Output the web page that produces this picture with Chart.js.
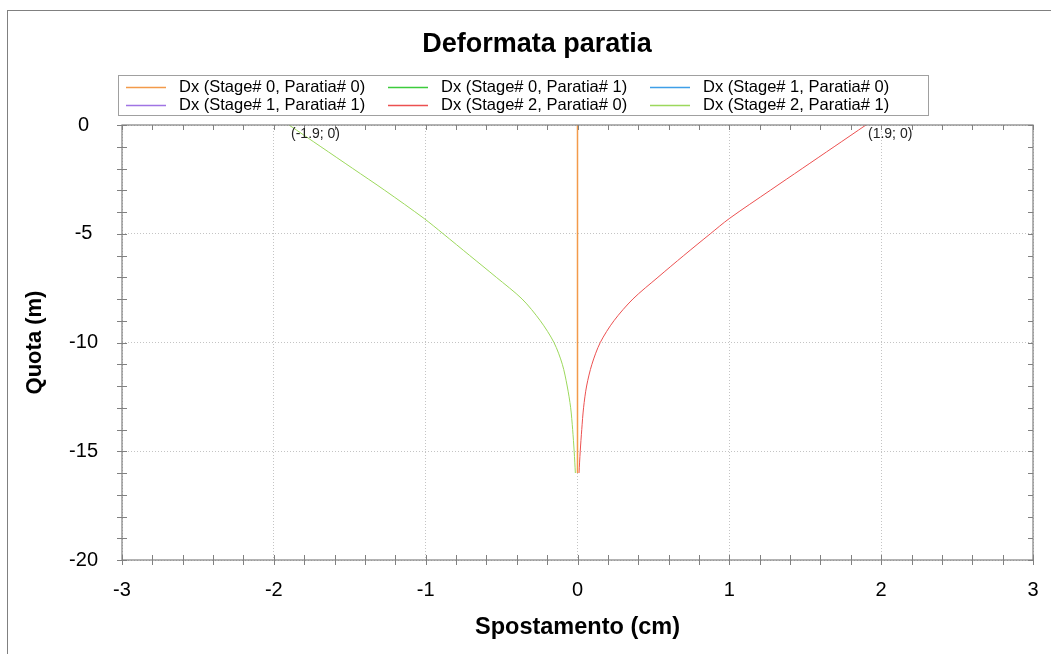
<!DOCTYPE html>
<html>
<head>
<meta charset="utf-8">
<script src="https://cdn.jsdelivr.net/npm/chart.js@4.4.1/dist/chart.umd.min.js"></script>
<style>
  html, body { margin: 0; padding: 0; background: #fff; overflow: hidden; }
  #wrap { position: absolute; left: 7px; top: 10px; border-left: 1px solid #808080; border-top: 1px solid #808080; }
  canvas { display: block; }
</style>
</head>
<body>
<div id="wrap"><canvas id="deformata" width="1058" height="643"></canvas></div>
<script>
// quote (m) dei punti
const quote = [0, -1, -2, -3, -4.3, -5, -6, -7, -8, -9, -10, -11, -12, -13, -14, -15, -16];

// spostamenti (cm) per ogni serie
const dxS0P0 = [0, 0, 0, 0, 0, 0, 0, 0, 0, 0, 0, 0, 0, 0, 0, 0, 0];
const dxS0P1 = [0, 0, 0, 0, 0, 0, 0, 0, 0, 0, 0, 0, 0, 0, 0, 0, 0];
const dxS1P0 = [0, 0, 0, 0, 0, 0, 0, 0, 0, 0, 0, 0, 0, 0, 0, 0, 0];
const dxS1P1 = [0, 0, 0, 0, 0, 0, 0, 0, 0, 0, 0, 0, 0, 0, 0, 0, 0];
const dxS2P0 = [1.9, 1.69, 1.48, 1.27, 1.0, 0.875, 0.7, 0.53, 0.365, 0.24, 0.15, 0.095, 0.06, 0.04, 0.028, 0.018, 0.01];
const dxS2P1 = [-1.9, -1.69, -1.48, -1.27, -1.01, -0.885, -0.71, -0.535, -0.365, -0.245, -0.155, -0.1, -0.068, -0.045, -0.032, -0.022, -0.014];

const nomiSerie = [
    "Dx (Stage# 0, Paratia# 0)", "Dx (Stage# 0, Paratia# 1)", "Dx (Stage# 1, Paratia# 0)",
    "Dx (Stage# 1, Paratia# 1)", "Dx (Stage# 2, Paratia# 0)", "Dx (Stage# 2, Paratia# 1)"
];
const coloriSerie = ["#f39a4a", "#3ccc3c", "#3f9fe8", "#a074e4", "#ec5050", "#9cd85c"];
const serie = [dxS0P0, dxS0P1, dxS1P0, dxS1P1, dxS2P0, dxS2P1];

// etichette dei punti di testa
const etichette = [
    { x: -1.9, y: 0, testo: "(-1.9; 0)" },
    { x: 1.9, y: 0, testo: "(1.9; 0)" }
];

const FONT = "'Liberation Sans', Arial, sans-serif";
const AXIS = "#808080";

function punti(xs) {
    return xs.map(function (v, i) { return { x: v, y: quote[i] }; });
}

// titolo, legenda a 3 colonne, tacche e cornice
const decorazioni = {
    id: "decorazioni",
    afterDatasetsDraw: function (chart) {
        const ctx = chart.ctx;
        const a = chart.chartArea;
        const sx = chart.scales.x, sy = chart.scales.y;
        ctx.save();

        // cornice
        ctx.strokeStyle = AXIS;
        ctx.lineWidth = 1.2;
        ctx.strokeRect(a.left, a.top, a.right - a.left, a.bottom - a.top);

        // tacche asse x ogni 0.2
        ctx.beginPath();
        for (let i = -15; i <= 15; i++) {
            const px = Math.round(sx.getPixelForValue(i / 5)) + 0.5;
            ctx.moveTo(px, a.bottom - 5); ctx.lineTo(px, a.bottom + 5);
            ctx.moveTo(px, a.top); ctx.lineTo(px, a.top + 5);
        }
        // tacche asse y ogni 1
        for (let j = -20; j <= 0; j++) {
            const py = Math.round(sy.getPixelForValue(j)) + 0.5;
            ctx.moveTo(a.left - 5, py); ctx.lineTo(a.left + 5, py);
            ctx.moveTo(a.right, py); ctx.lineTo(a.right - 5, py);
        }
        ctx.lineWidth = 1;
        ctx.stroke();

        // titolo
        ctx.fillStyle = "#000";
        ctx.font = "bold 27px " + FONT;
        ctx.textAlign = "center";
        ctx.textBaseline = "middle";
        ctx.fillText("Deformata paratia", 529, 34);

        // etichette punti
        ctx.fillStyle = "#222";
        ctx.font = "14px " + FONT;
        ctx.textBaseline = "top";
        ctx.textAlign = "left";
        etichette.forEach(function (e) {
            ctx.fillText(e.testo, sx.getPixelForValue(e.x) + 2, sy.getPixelForValue(e.y) + 2);
        });

        // legenda
        ctx.fillStyle = "#fff";
        ctx.fillRect(110, 64, 810, 40);
        ctx.strokeStyle = "#a0a0a0";
        ctx.lineWidth = 1;
        ctx.strokeRect(110.5, 64.5, 810, 40);
        ctx.font = "16.5px " + FONT;
        ctx.textBaseline = "middle";
        nomiSerie.forEach(function (nome, k) {
            const col = k % 3, row = Math.floor(k / 3);
            const x0 = 118 + col * 262, y0 = 76 + row * 18;
            ctx.strokeStyle = coloriSerie[k];
            ctx.lineWidth = 1.5;
            ctx.beginPath();
            ctx.moveTo(x0, y0 + 0.5); ctx.lineTo(x0 + 40, y0 + 0.5);
            ctx.stroke();
            ctx.fillStyle = "#000";
            ctx.fillText(nome, x0 + 53, y0);
        });
        ctx.restore();
    }
};

new Chart(document.getElementById("deformata"), {
    type: "scatter",
    data: {
        datasets: serie.map(function (xs, k) {
            return {
                label: nomiSerie[k],
                data: punti(xs),
                showLine: true,
                order: k,
                borderColor: coloriSerie[k],
                backgroundColor: coloriSerie[k],
                borderWidth: k === 0 ? 1.5 : 1,
                pointRadius: 0,
                tension: 0.3
            };
        })
    },
    options: {
        responsive: false,
        animation: false,
        layout: { padding: { left: 0, right: 33, top: 114, bottom: 0 } },
        plugins: {
            legend: { display: false },
            tooltip: { enabled: false },
            title: { display: false }
        },
        scales: {
            x: {
                type: "linear",
                min: -3, max: 3,
                afterFit: function (s) { s.height = 94; },
                ticks: { stepSize: 1, color: "#000", padding: 18, font: { family: FONT, size: 20 } },
                grid: { drawTicks: false, color: "#c4c4c4" },
                border: { display: false, dash: [1, 2] },
                title: {
                    display: true, text: "Spostamento (cm)", color: "#000",
                    font: { family: FONT, size: 23.5, weight: "bold", lineHeight: 1.2 },
                    padding: { top: 0, bottom: 12.5 }
                }
            },
            y: {
                type: "linear",
                min: -20, max: 0,
                afterFit: function (s) { s.width = 114; },
                ticks: { stepSize: 5, color: "#000", padding: 24, crossAlign: "center", font: { family: FONT, size: 20 } },
                grid: { drawTicks: false, color: "#c4c4c4" },
                border: { display: false, dash: [1, 2] },
                title: {
                    display: true, text: "Quota (m)", color: "#000",
                    font: { family: FONT, size: 22, weight: "bold", lineHeight: 1.2 },
                    padding: { top: 13.3, bottom: 0 }
                }
            }
        }
    },
    plugins: [decorazioni]
});
</script>
</body>
</html>
